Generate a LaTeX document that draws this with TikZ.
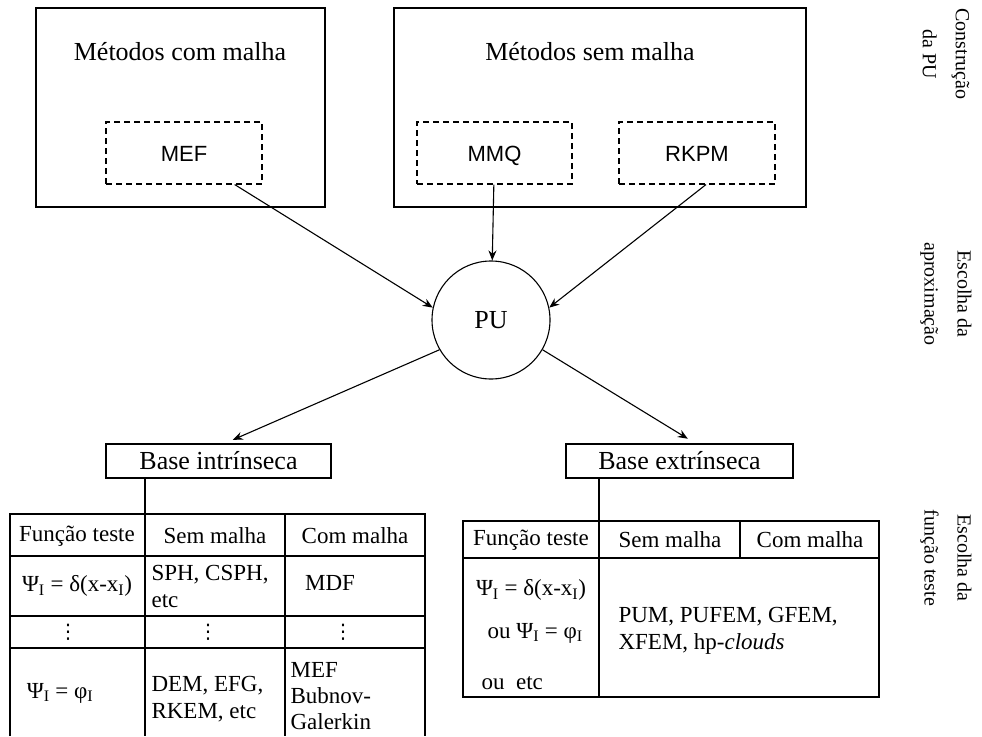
\documentclass[tikz,border=0pt]{standalone}
\usepackage{fontspec}
\setmainfont{Liberation Serif}
\setsansfont{Liberation Sans}
\newfontfamily\dotsfont{DejaVu Sans}
\usetikzlibrary{arrows.meta,positioning}

\begin{document}
\begin{tikzpicture}[x=1pt,y=-1pt,>={Stealth[length=10pt,width=8pt]},line width=1.1pt,
        font=\fontsize{26}{30}\selectfont,
        bigbox/.style={draw,rectangle,inner sep=0pt},
        dashbox/.style={draw,rectangle,dash pattern=on 6pt off 4pt,inner sep=0pt,
            minimum width=156pt,minimum height=62pt,text height=16pt,text depth=0pt,
            font=\sffamily\fontsize{22}{26}\selectfont},
        cell/.style={inner sep=0pt,font=\fontsize{23}{27}\selectfont},
        vdot/.style={inner sep=0pt,font=\dotsfont\fontsize{20}{20}\selectfont},
        side/.style={rotate=-90,align=center,inner sep=0pt,font=\fontsize{20}{33}\selectfont}]
		\useasboundingbox (0,0) rectangle (982,736);
		% construcao da PU
		\node [bigbox,minimum width=289pt,minimum height=199pt] (com) at (180.5,107.5) {};
		\node (comt) at (180,52) {Métodos com malha};
		\node [dashbox] (mef) at (184,153) {MEF};
		\node [bigbox,minimum width=412pt,minimum height=199pt] (sem) at (600,107.5) {};
		\node (semt) at (590,52) {Métodos sem malha};
		\node [dashbox,minimum width=155pt] (mmq) at (494.5,153) {MMQ};
		\node [dashbox] (rkpm) at (697,153) {RKPM};
		% aproximacao
		\node [circle,draw,minimum size=118pt,inner sep=0pt] (pu) at (491,320) {PU};
		\node [bigbox,minimum width=225pt,minimum height=34pt] (bi) at (218.5,461) {Base intrínseca};
		\node [bigbox,minimum width=227pt,minimum height=34pt] (be) at (679.5,461) {Base extrínseca};
		\draw [->] (mef) -- (pu.168);
		\draw [->] (mmq) -- (pu);
		\draw [->] ([xshift=9pt]rkpm.south) -- (pu.12);
		\draw [->,shorten >=9pt] (pu.210) -- ([xshift=6pt]bi.north);
		\draw [->,shorten >=9pt] (pu.330) -- ([xshift=16pt]be.north);
		% tabelas
		\coordinate (ti) at (145,514);
		\coordinate (te) at (599,521);
		\draw (bi.south -| ti) -- (ti);
		\draw (be.south -| te) -- (te);
		\draw (10,736) -- (10,514) -- (425,514) -- (425,736);
		\draw (145,514) -- (145,736) (285,514) -- (285,736);
		\draw (10,556) -- (425,556) (10,616) -- (425,616) (10,648) -- (425,648);
		\draw (463,521) rectangle (879,697);
		\draw (599,521) -- (599,697) (740,521) -- (740,558) (463,558) -- (879,558);
		\node [cell] (i1) at (77,536) {Função teste};
		\node [cell] (i2) at (215,536) {Sem malha};
		\node [cell] (i3) at (355,536) {Com malha};
		\node [cell] (i4) at (77,586) {Ψ\textsubscript{I} = δ(x-x\textsubscript{I})};
		\node [cell,anchor=west,align=left] (i5) at (151,586) {SPH, CSPH,\\etc};
		\node [cell] (i6) at (330,583) {MDF};
		\node [vdot] (i7) at (68,632) {⋮};
		\node [vdot] (i8) at (208,632) {⋮};
		\node [vdot] (i9) at (343,632) {⋮};
		\node [cell] (i10) at (60,693) {Ψ\textsubscript{I} = φ\textsubscript{I}};
		\node [cell,anchor=west,align=left] (i11) at (151,699) {DEM, EFG,\\RKEM, etc};
		\node [cell,anchor=west,align=left,font=\fontsize{23}{26}\selectfont] (i12) at (290,696) {MEF\\Bubnov-\\Galerkin};
		\node [cell] (e1) at (531,540) {Função teste};
		\node [cell] (e2) at (670,540) {Sem malha};
		\node [cell] (e3) at (810,540) {Com malha};
		\node [cell] (e4) at (531,590) {Ψ\textsubscript{I} = δ(x-x\textsubscript{I})};
		\node [cell,anchor=west] (e5) at (487,633) {ou Ψ\textsubscript{I} = φ\textsubscript{I}};
		\node [cell,anchor=west] (e6) at (481,683) {ou~~etc};
		\node [cell,anchor=west,align=left] (e7) at (618,631) {PUM, PUFEM, GFEM,\\XFEM, hp-\textit{clouds}};
		% etapas
		\node [side] (s1) at (946,54) {Construção\\da PU};
		\node [side] (s2) at (946,294) {Escolha da\\aproximação};
		\node [side] (s3) at (946,558) {Escolha da\\função teste};
\end{tikzpicture}
\end{document}
